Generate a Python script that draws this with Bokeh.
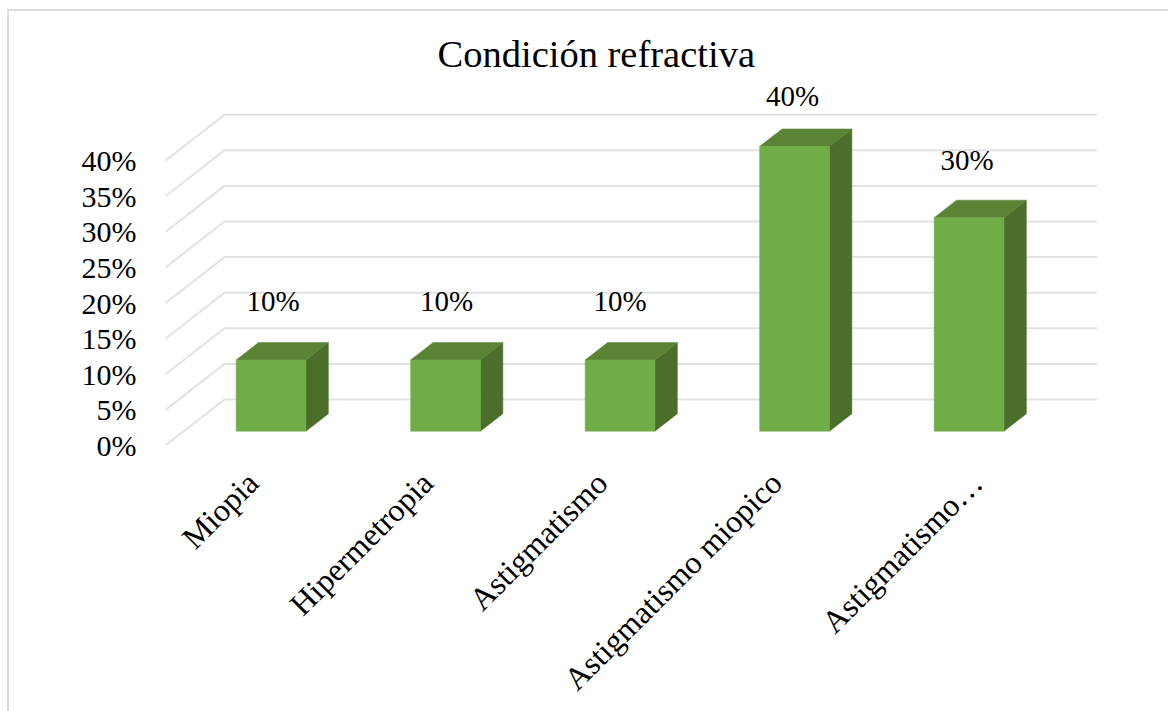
import math
from bokeh.plotting import figure
from bokeh.models import ColumnDataSource, FixedTicker
from bokeh.core.properties import value
from bokeh.embed import file_html
from bokeh.resources import INLINE

categories = ["Miopia", "Hipermetropia", "Astigmatismo", "Astigmatismo miopico", "Astigmatismo…"]
values = [10, 10, 10, 40, 30]
data_labels = ["10%", "10%", "10%", "40%", "30%"]
y_ticks = [0, 5, 10, 15, 20, 25, 30, 35, 40]

# 3D projection (depth 0 = front of floor, depth 1 = back wall)
DX, DY = 0.338, 6.46
D0, D1 = 0.31, 0.69
HALF = 0.2
FONT = "Liberation Serif"
PX_PER_UNIT = 7.12


def proj(x, y, d):
    return x + DX * d, y + DY * d


frame_top, frame_bottom = 72, 446
zero_y = 445
p = figure(
    width=1168, height=703, output_backend="svg", toolbar_location=None,
    frame_width=935, frame_height=frame_bottom - frame_top,
    x_range=(-0.5, 4.858),
    y_range=((zero_y - frame_bottom) / PX_PER_UNIT, (zero_y - frame_top) / PX_PER_UNIT),
    min_border_left=165, min_border_right=68, min_border_top=frame_top, min_border_bottom=703 - frame_bottom,
    title="Condición refractiva",
)
p.outline_line_color = None
p.grid.visible = False
p.background_fill_color = None
p.border_fill_color = None
# thin chart-area border, open to the right and bottom
p.styles = {
    "background-color": "white",
    "background-image": "linear-gradient(#dddddd,#dddddd),linear-gradient(#dddddd,#dddddd)",
    "background-size": "100% 2px,2px 100%",
    "background-position": "7px 9px,7px 9px",
    "background-repeat": "no-repeat",
}

p.title.text_font = FONT
p.title.text_font_size = "38.5px"
p.title.text_font_style = "normal"
p.title.text_color = "#000000"
p.title.align = "left"
p.title.offset = 272
p.title.standoff = -4

ya = p.yaxis[0]
ya.ticker = FixedTicker(ticks=y_ticks)
ya.major_label_overrides = {t: f"{t}%" for t in y_ticks}
ya.axis_line_color = None
ya.major_tick_line_color = None
ya.minor_tick_line_color = None
ya.major_tick_in = 0
ya.major_tick_out = 0
ya.major_label_standoff = 29
ya.major_label_text_font = FONT
ya.major_label_text_font_size = "30px"
ya.major_label_text_color = "#000000"

xa = p.xaxis[0]
tick_pos = [float(i) for i in range(len(categories))]
tick_pos[-1] += 0.15
xa.ticker = FixedTicker(ticks=tick_pos)
xa.major_label_overrides = {t: c for t, c in zip(tick_pos, categories)}
xa.axis_line_color = None
xa.major_tick_line_color = None
xa.minor_tick_line_color = None
xa.major_tick_in = 0
xa.major_tick_out = 0
xa.major_label_orientation = math.pi / 4
xa.major_label_standoff = 31
xa.major_label_text_font = FONT
xa.major_label_text_font_size = "32px"
xa.major_label_text_color = "#000000"

# gridlines: floor-side diagonal + back wall
gx, gy = [], []
for t in y_ticks:
    a = proj(-0.5, t, 0)
    b = proj(-0.5, t, 1)
    c = proj(4.5, t, 1)
    gx.append([a[0], b[0], c[0]])
    gy.append([a[1], b[1], c[1]])
p.multi_line(gx, gy, line_color="#e2e2e2", line_width=2)

idx = list(range(len(values)))
# front faces
left = [proj(i - HALF, 0, D0)[0] for i in idx]
right = [proj(i + HALF, 0, D0)[0] for i in idx]
bottom = [proj(0, 0, D0)[1] for _ in idx]
top = [proj(0, v, D0)[1] for v in values]

side_x, side_y, top_x, top_y = [], [], [], []
for i, v in zip(idx, values):
    pts = [proj(i + HALF, 0, D0), proj(i + HALF, 0, D1), proj(i + HALF, v, D1), proj(i + HALF, v, D0)]
    side_x.append([q[0] for q in pts])
    side_y.append([q[1] for q in pts])
    pts = [proj(i - HALF, v, D0), proj(i - HALF, v, D1), proj(i + HALF, v, D1), proj(i + HALF, v, D0)]
    top_x.append([q[0] for q in pts])
    top_y.append([q[1] for q in pts])

p.patches(side_x, side_y, fill_color="#4B6F2B", line_color="#4B6F2B", line_width=0.5)
p.patches(top_x, top_y, fill_color="#5A8335", line_color="#5A8335", line_width=0.5)
p.quad(left=left, right=right, bottom=bottom, top=top, fill_color="#70AD47", line_color="#70AD47", line_width=0.5)

src = ColumnDataSource(dict(
    x=[proj(i, 0, D0)[0] for i in idx],
    y=top,
    text=data_labels,
    yo=[-59, -59, -59, -50, -58],
    xo=[2, 1, 0, -2, -2],
))
p.text("x", "y", text="text", source=src, x_offset="xo", y_offset="yo",
       text_align="center", text_baseline="middle",
       text_font=value(FONT), text_font_size="29px", text_color="#000000")

open("out.html", "w").write(file_html(p, INLINE))
